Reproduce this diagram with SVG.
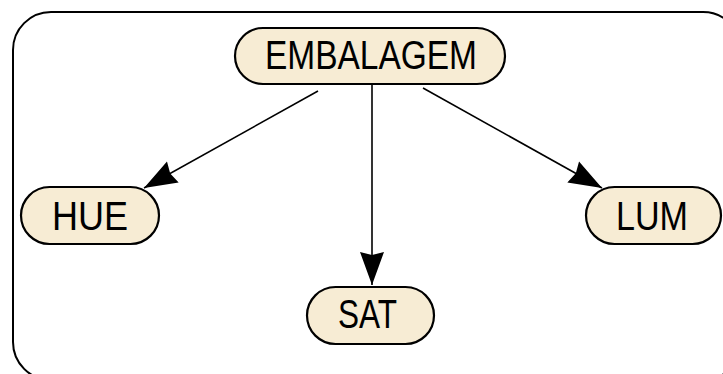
<svg xmlns="http://www.w3.org/2000/svg" width="723" height="374" viewBox="0 0 723 374">
  <style>
    .node rect { fill: #F7ECD4; stroke: #000; stroke-width: 2.2; }
    .node text { font-family: "Liberation Sans", Arial, sans-serif; font-size: 40px; fill: #000; text-anchor: middle; }
    .edge { stroke: #000; stroke-width: 1.6; fill: none; marker-end: url(#head); }
    .frame { fill: none; stroke: #000; stroke-width: 2; }
  </style>
  <defs>
    <marker id="head" markerUnits="userSpaceOnUse" markerWidth="34" markerHeight="26" refX="33" refY="13" orient="auto">
      <path d="M0,1 L33,13 L0,25 L3,13 Z" fill="#000"/>
    </marker>
  </defs>
  <rect width="723" height="374" fill="#fff"/>
  <!-- enclosing cluster -->
  <rect class="frame" x="13" y="12" width="728" height="368" rx="38" ry="38"/>
  <g id="edges">
    <line class="edge" x1="318" y1="91" x2="144" y2="188"/>
    <line class="edge" x1="372" y1="85" x2="372" y2="285"/>
    <line class="edge" x1="423" y1="88" x2="602" y2="188"/>
  </g>
  <g id="embalagem" class="node">
    <rect x="235" y="28" width="270" height="56" rx="28" ry="28"/>
    <text x="371" y="69" textLength="212" lengthAdjust="spacingAndGlyphs">EMBALAGEM</text>
  </g>
  <g id="hue" class="node">
    <rect x="21" y="187" width="138" height="57" rx="28.5" ry="28.5"/>
    <text x="90" y="230" textLength="76" lengthAdjust="spacingAndGlyphs">HUE</text>
  </g>
  <g id="sat" class="node">
    <rect x="307" y="287" width="127" height="57" rx="28.5" ry="28.5"/>
    <text x="367.5" y="328" textLength="59" lengthAdjust="spacingAndGlyphs">SAT</text>
  </g>
  <g id="lum" class="node">
    <rect x="586" y="187" width="135" height="57" rx="28.5" ry="28.5"/>
    <text x="652" y="230" textLength="72" lengthAdjust="spacingAndGlyphs">LUM</text>
  </g>
</svg>
